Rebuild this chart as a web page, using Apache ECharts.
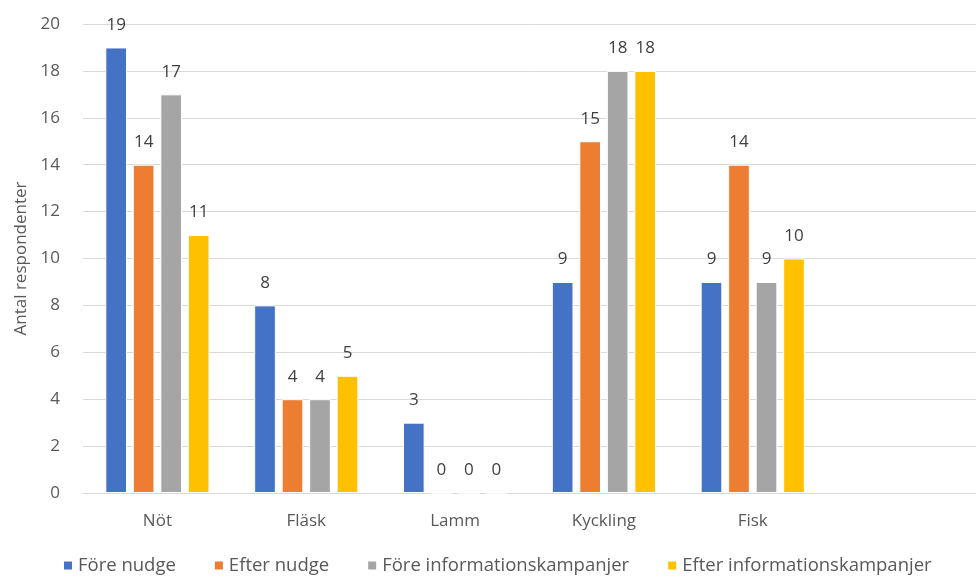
<!DOCTYPE html>
<html>
<head>
<meta charset="utf-8">
<script src="https://cdn.jsdelivr.net/npm/echarts@6/dist/echarts.min.js"></script>
<style>
  html, body { margin: 0; padding: 0; background: #fff; }
  #chart { width: 976px; height: 580px; }
</style>
</head>
<body>
<div id="chart"></div>
<script>
// Meat categories (the trailing blank slot keeps the empty space at the right)
const categories = ['Nöt', 'Fläsk', 'Lamm', 'Kyckling', 'Fisk', ''];
const seriesNames = ['Före nudge', 'Efter nudge', 'Före informationskampanjer', 'Efter informationskampanjer'];
const foreNudge = [19, 8, 3, 9, 9, null];
const efterNudge = [14, 4, 0, 15, 14, null];
const foreInfo = [17, 4, 0, 18, 9, null];
const efterInfo = [11, 5, 0, 18, 10, null];
const colors = ['#4472C4', '#ED7D31', '#A5A5A5', '#FFC000'];

const fontFamily = 'Open Sans, Liberation Sans, sans-serif';
const values = [foreNudge, efterNudge, foreInfo, efterInfo];

const chart = echarts.init(document.getElementById('chart'), null, { renderer: 'canvas' });
chart.setOption({
  animation: false,
  textStyle: { fontFamily },
  grid: { left: 83, top: 24, width: 900, height: 469 },
  legend: {
    bottom: 0,
    left: 57,
    itemWidth: 10,
    itemHeight: 10,
    itemGap: 37,
    icon: 'rect',
    textStyle: { color: '#595959', fontSize: 18.5, fontFamily },
    data: seriesNames
  },
  xAxis: {
    type: 'category',
    data: categories,
    axisLine: { lineStyle: { color: '#D9D9D9' } },
    axisTick: { show: false },
    axisLabel: { color: '#595959', fontSize: 17, margin: 20 }
  },
  yAxis: {
    type: 'value',
    min: 0,
    max: 20,
    interval: 2,
    name: 'Antal respondenter',
    nameLocation: 'middle',
    nameGap: 52,
    nameTextStyle: { color: '#595959', fontSize: 17 },
    axisLine: { show: false },
    axisTick: { show: false },
    axisLabel: { color: '#595959', fontSize: 17, margin: 23 },
    splitLine: { lineStyle: { color: '#D9D9D9', width: 1 } }
  },
  series: seriesNames.map((name, i) => ({
    name,
    type: 'bar',
    data: values[i],
    barGap: '27%',
    barCategoryGap: '30%',
    itemStyle: { color: colors[i], borderColor: '#fff', borderWidth: 1 },
    label: {
      show: true,
      position: 'top',
      distance: 14,
      color: '#404040',
      fontSize: 17
    }
  }))
});
</script>
</body>
</html>
